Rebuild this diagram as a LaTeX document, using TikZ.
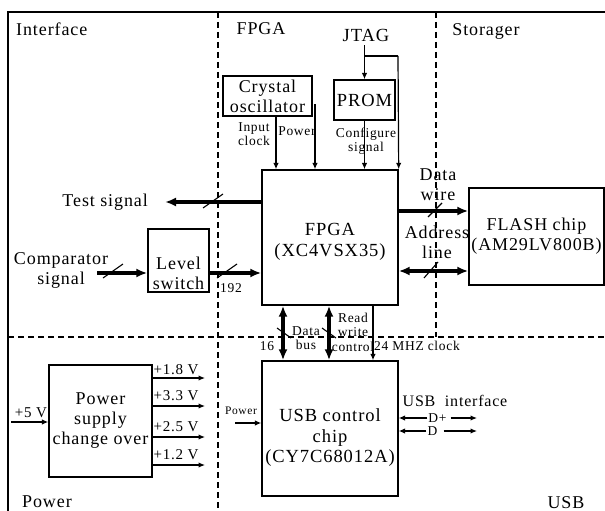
\documentclass[tikz,border=0pt]{standalone}
\usepackage{fontspec}
\setmainfont[LetterSpace=5]{Liberation Serif}
\usetikzlibrary{arrows.meta}

% font sizes used in the diagram
\newcommand\fsA{\fontsize{18}{20}\selectfont}
\newcommand\fsBig{\fontsize{18.5}{20.5}\selectfont}
\newcommand\fsB{\fontsize{13.5}{14.5}\selectfont}
\newcommand\fsC{\fontsize{15}{16}\selectfont}
\newcommand\fsD{\fontsize{11.5}{12}\selectfont}
\newcommand\fsE{\fontsize{16}{18}\selectfont}

\tikzset{
  every node/.style={inner sep=0pt, align=center},
  blk/.style={draw, line width=1.4pt, inner sep=0pt},
  wire/.style={line width=1.2pt},
  big/.style={line width=3.2pt},
  ta/.style={-{Latex[length=6.5pt,width=5.5pt]}},
  ba/.style={-{Latex[length=11pt,width=9pt]}},
  bba/.style={{Latex[length=11pt,width=9pt]}-{Latex[length=11pt,width=9pt]}},
  region/.style={dash pattern=on 6pt off 4pt, line width=1.1pt},
  cut/.style={line width=1.1pt},
}

\begin{document}
\begin{tikzpicture}[x=1pt,y=-1pt,font=\fsA]
\useasboundingbox (0,0) rectangle (605,511);

% outer frame and region separators
\draw[line width=1.4pt] (8,511) -- (8,12) -- (605,12);
\draw[region] (218,12) -- (218,511);
\draw[region] (436,12) -- (436,337);
\draw[region] (8,337) -- (605,337);

% region titles
\node[anchor=base west] (tInterface) at (16,36) {Interface};
\node[anchor=base] (tFPGA) at (261,35) {FPGA};
\node[anchor=base] (tStorager) at (486,36) {Storager};
\node[anchor=base] (tPower) at (47,507) {Power};
\node[anchor=base] (tUSB) at (566,508) {USB};

% blocks
\node[blk, minimum width=89pt, minimum height=40pt] (crys) at (267.5,96) {Crystal\\oscillator};
\node[blk, minimum width=61pt, minimum height=40pt, font=\fsBig] (prom) at (364.5,100) {PROM};
\node[blk, minimum width=136pt, minimum height=135pt] (fpga) at (330,237.5) {};
\node[font=\fsBig] (fpgatxt) at (330,242) {FPGA\\(XC4VSX35)};
\node[blk, minimum width=135pt, minimum height=97pt] (flash) at (536.5,236.5) {FLASH chip\\(AM29LV800B)};
\node[blk, minimum width=61pt, minimum height=63pt] (level) at (178.5,260.5) {};
\node (leveltxt) at (178.5,273) {Level\\switch};
\node[blk, minimum width=136pt, minimum height=135pt] (usb) at (330,428.5) {};
\node[font=\fsBig] (usbtxt) at (330,438) {USB control\\chip\\(CY7C68012A)};
\node[blk, minimum width=103pt, minimum height=112pt] (psu) at (100.5,421) {Power\\supply\\change over};

% JTAG and configuration
\node[anchor=base, font=\fsBig] (jtag) at (366,42) {JTAG};
\draw[wire,ta] ([yshift=-3pt]jtag.south -| prom.north) -- (prom.north);
\coordinate (jb) at (364.5,56);
\draw[wire] (jb) -| (398,56) coordinate (jc);
\draw[wire,ta] (jc) -- (fpga.north east);
\draw[wire,ta] (prom.south) -- (fpga.north -| prom.south);
\node[font=\fsB] (lcfg) at (366,141) {Configure\\signal};

% clock and power from the oscillator
\coordinate (xclk) at (276,0);
\draw[wire,ta] (crys.south -| xclk) -- (fpga.north -| xclk);
\node[font=\fsB] (lclk) at (254,134) {Input\\clock};
\coordinate (pw) at (315,104);
\draw[wire,ta] (pw) -- (fpga.north -| pw);
\node[font=\fsB] (lpw) at (297,131) {Power};

% test signal output
\node[anchor=east] (test) at (148,202) {Test signal};
\coordinate (ytest) at (0,202);
\draw[big,ba] (fpga.west |- ytest) -- ([xshift=17pt]test.east);
\coordinate (s1) at (213,201);
\draw[cut] (s1) +(-10,7) -- +(10,-7);

% comparator input through the level switch
\node (cmp) at (61,270) {Comparator\\signal};
\coordinate (cin) at (97,273);
\draw[big,ba] (cin) -- (level.west |- cin);
\coordinate (s2) at (113,271);
\draw[cut] (s2) +(-10,7) -- +(10,-7);
\draw[big,ba] (level.east |- cin) -- (fpga.west |- cin);
\coordinate (s3) at (227,271);
\draw[cut] (s3) +(-10,7) -- +(10,-7);
\node[font=\fsB] (l192) at (231,288) {192};

% storage interface
\coordinate (ydw) at (0,211);
\draw[big,ba] (fpga.east |- ydw) -- (flash.west |- ydw);
\coordinate (s4) at (435,210);
\draw[cut] (s4) +(-7,7) -- +(7,-7);
\node (ldw) at (438,185) {Data\\wire};
\coordinate (yad) at (0,271);
\draw[big,bba] (fpga.east |- yad) -- (flash.west |- yad);
\coordinate (s5) at (431,270);
\draw[cut] (s5) +(-7,8) -- +(7,-8);
\node (lad) at (437,242) {Address\\line};

% FPGA to USB controller
\coordinate (xdb) at (283,0);
\draw[big,bba] (fpga.south -| xdb) -- (usb.north -| xdb);
\coordinate (s6) at (284,333);
\draw[cut] (s6) +(-7,-5) -- +(7,5);
\coordinate (xrw) at (329,0);
\draw[big,bba] (fpga.south -| xrw) -- (usb.north -| xrw);
\coordinate (s7) at (329,333);
\draw[cut] (s7) +(-7,-5) -- +(7,5);
\coordinate (xck) at (373,0);
\draw[wire,ta] (fpga.south -| xck) -- (usb.north -| xck);
\node[font=\fsB] (l16) at (267,346) {16};
\node[font=\fsB] (ldb) at (306,338) {Data\\bus};
\node[font=\fsB] (lrw) at (353,332) {Read\\write\\control};
\node[font=\fsB, anchor=west] (lck) at (374,346) {24 MHZ clock};

% USB side
\coordinate (pin) at (235,423);
\draw[wire,ta] (pin) -- (usb.west |- pin);
\node[font=\fsD] (lpu) at (241,411) {Power};
\node[font=\fsE] (lusb) at (455,401) {USB\ \ interface};
\node[font=\fsB] (dp) at (437.5,418) {D+};
\coordinate (dpo) at (477,418);
\draw[wire,ta] ([xshift=-1pt]dp.west) -- (usb.east |- dp);
\draw[wire,ta] ([xshift=4pt]dp.east) -- (dpo);
\node[font=\fsB] (dm) at (432.5,431) {D};
\coordinate (dmo) at (477,431);
\draw[wire,ta] ([xshift=-1pt]dm.west) -- (usb.east |- dm);
\draw[wire,ta] ([xshift=6pt]dm.east) -- (dmo);

% power supply
\coordinate (p5) at (11,422);
\draw[wire,ta] (p5) -- (psu.west |- p5);
\node[font=\fsC] (l5) at (31,413) {+5 V};
\coordinate (o1) at (205,378);
\coordinate (o2) at (205,406);
\coordinate (o3) at (205,437);
\coordinate (o4) at (205,465);
\draw[wire,ta] (psu.east |- o1) -- (o1);
\draw[wire,ta] (psu.east |- o2) -- (o2);
\draw[wire,ta] (psu.east |- o3) -- (o3);
\draw[wire,ta] (psu.east |- o4) -- (o4);
\node[font=\fsC] (v1) at (176,370) {+1.8 V};
\node[font=\fsC] (v2) at (176,396) {+3.3 V};
\node[font=\fsC] (v3) at (176,427) {+2.5 V};
\node[font=\fsC] (v4) at (176,455) {+1.2 V};
\end{tikzpicture}
\end{document}
